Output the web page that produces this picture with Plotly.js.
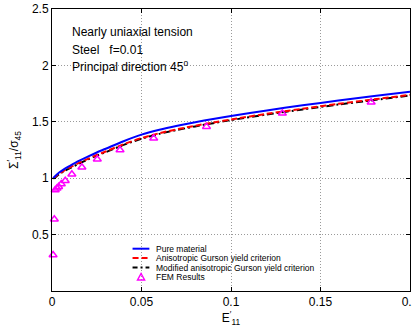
<!DOCTYPE html>
<html>
<head>
<meta charset="utf-8">
<script src="https://cdn.plot.ly/plotly-3.0.1.min.js"></script>
<style>html,body{margin:0;padding:0;background:#fff;}#chart{width:412px;height:328px;}</style>
</head>
<body>
<div id="chart"></div>
<script>
// Strain values E'11 for the model curves
var strainModel = [0.0007, 0.002, 0.004, 0.007, 0.01, 0.015, 0.02, 0.025, 0.03, 0.04, 0.05, 0.06, 0.07, 0.08, 0.09, 0.1, 0.12, 0.14, 0.16, 0.18, 0.2];
// Pure material (blue solid)
var pureMaterial = [1.000, 1.022, 1.050, 1.083, 1.110, 1.153, 1.192, 1.228, 1.261, 1.328, 1.386, 1.430, 1.465, 1.496, 1.525, 1.552, 1.601, 1.646, 1.688, 1.728, 1.767];
// Anisotropic Gurson yield criterion (red dashed)
var anisoGurson = [1.000, 1.016, 1.040, 1.070, 1.095, 1.135, 1.172, 1.206, 1.237, 1.301, 1.356, 1.399, 1.434, 1.465, 1.494, 1.521, 1.571, 1.616, 1.659, 1.699, 1.739];
// Modified anisotropic Gurson yield criterion (black dash-dot)
var modAnisoGurson = [0.996, 1.010, 1.034, 1.064, 1.089, 1.129, 1.166, 1.200, 1.231, 1.295, 1.350, 1.393, 1.428, 1.459, 1.488, 1.515, 1.565, 1.610, 1.653, 1.693, 1.733];
// FEM results (magenta triangles)
var femStrain = [0.0006, 0.0013, 0.0018, 0.0028, 0.0037, 0.0052, 0.0074, 0.0111, 0.0167, 0.0253, 0.038, 0.0568, 0.0863, 0.1287, 0.1783];
var femStress = [0.319, 0.636, 0.895, 0.910, 0.925, 0.949, 0.978, 1.035, 1.097, 1.168, 1.25, 1.354, 1.457, 1.575, 1.673];
// Axis ticks
var xTickVals = [0, 0.05, 0.1, 0.15, 0.2];
var xTickText = ['0', '0.05', '0.1', '0.15', '0.2'];
var yTickVals = [0.5, 1, 1.5, 2, 2.5];
var yTickText = ['0.5', '1', '1.5', '2', '2.5'];
var seriesNames = ['Pure material', 'Anisotropic Gurson yield criterion', 'Modified anisotropic Gurson yield criterion', 'FEM Results'];
var infoLines = ['Nearly uniaxial tension', 'Steel\u00a0\u00a0\u00a0f=0.01', 'Principal direction 45<sup>o</sup>'];

var FONT = 'Liberation Sans, Arial, Helvetica, sans-serif';

var traces = [
  {x: strainModel, y: modAnisoGurson, mode: 'lines', name: seriesNames[2], line: {color: '#000000', width: 2, dash: '7px,3px,2px,3px', shape: 'spline', smoothing: 0.8}, showlegend: false},
  {x: strainModel, y: anisoGurson, mode: 'lines', name: seriesNames[1], line: {color: '#ff0000', width: 2, dash: '6px,3px', shape: 'spline', smoothing: 0.8}, showlegend: false},
  {x: strainModel, y: pureMaterial, mode: 'lines', name: seriesNames[0], line: {color: '#0000ff', width: 2, shape: 'spline', smoothing: 0.8}, showlegend: false},
  {x: femStrain, y: femStress, mode: 'markers', name: seriesNames[3], marker: {symbol: 'triangle-up-open', size: 7, color: '#ff00ff', line: {width: 1.5, color: '#ff00ff'}}, showlegend: false, cliponaxis: false}
];

// custom compact legend (paper coordinates)
var legX0 = 0.225, legX1 = 0.272, legTextX = 0.285;
var legY = [0.150, 0.117, 0.083, 0.050];
var shapes = [
  {type: 'line', xref: 'paper', yref: 'paper', x0: legX0, x1: legX1, y0: legY[0], y1: legY[0], line: {color: '#0000ff', width: 2}},
  {type: 'line', xref: 'paper', yref: 'paper', x0: legX0, x1: legX1, y0: legY[1], y1: legY[1], line: {color: '#ff0000', width: 2, dash: '6px,3px'}},
  {type: 'line', xref: 'paper', yref: 'paper', x0: legX0, x1: legX1, y0: legY[2], y1: legY[2], line: {color: '#000000', width: 2, dash: '5px,3px,2px,3px'}},
  {type: 'path', xref: 'paper', yref: 'paper',
   path: 'M 0.2488,' + (legY[3] + 0.012) + ' L 0.2586,' + (legY[3] - 0.011) + ' L 0.2390,' + (legY[3] - 0.011) + ' Z',
   line: {color: '#ff00ff', width: 1.5}}
];

var annotations = [];
for (var i = 0; i < seriesNames.length; i++) {
  annotations.push({xref: 'paper', yref: 'paper', x: legTextX, y: legY[i], xanchor: 'left', yanchor: 'middle',
    text: seriesNames[i], showarrow: false, font: {family: FONT, size: 8.5, color: '#000'}});
}
var infoY = [0.918, 0.855, 0.797];
for (var j = 0; j < infoLines.length; j++) {
  annotations.push({xref: 'paper', yref: 'paper', x: 0.049, y: infoY[j], xanchor: 'left', yanchor: 'middle',
    text: infoLines[j], showarrow: false, font: {family: FONT, size: 12, color: '#000'}});
}

var axisCommon = {
  showline: true, linecolor: '#000', linewidth: 1, mirror: 'ticks',
  ticks: 'inside', ticklen: 4, tickwidth: 1, tickcolor: '#000',
  showgrid: true, gridcolor: '#9a9a9a', gridwidth: 1, griddash: '1px,2px',
  zeroline: false, ticklabeloverflow: 'allow',
  tickfont: {family: FONT, size: 12, color: '#000'}
};

var layout = {
  width: 412, height: 328,
  margin: {l: 52, r: 2, t: 9, b: 37},
  paper_bgcolor: '#fff', plot_bgcolor: '#fff',
  showlegend: false,
  xaxis: Object.assign({}, axisCommon, {
    range: [0, 0.2], tickmode: 'array', tickvals: xTickVals, ticktext: xTickText,
    title: {text: 'E<sup>\u2032</sup><sub>11</sub>', font: {family: FONT, size: 12, color: '#000'}, standoff: 0}
  }),
  yaxis: Object.assign({}, axisCommon, {
    range: [0, 2.5], tickmode: 'array', tickvals: yTickVals, ticktext: yTickText,
    title: {text: '\u03a3<sup>\u2032</sup><sub>11</sub>/\u03c3<sub>45</sub>', font: {family: FONT, size: 12, color: '#000'}, standoff: 10}
  }),
  shapes: shapes,
  annotations: annotations
};

Plotly.newPlot('chart', traces, layout, {staticPlot: true, displayModeBar: false});
</script>
</body>
</html>
